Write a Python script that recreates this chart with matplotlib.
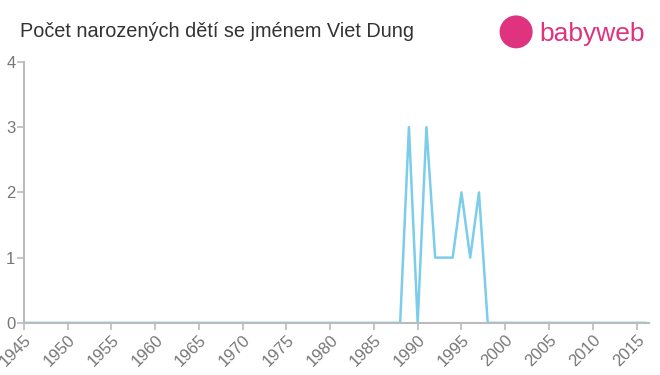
import matplotlib.pyplot as plt
from matplotlib.patches import Ellipse

plt.rcParams['font.family'] = ['Liberation Sans', 'DejaVu Sans']

years = list(range(1945, 2017))
births = [0] * len(years)
peaks = {1989: 3, 1991: 3, 1992: 1, 1993: 1, 1994: 1, 1995: 2, 1996: 1, 1997: 2}
for y, v in peaks.items():
    births[years.index(y)] = v

x_ticks = list(range(1945, 2016, 5))
y_ticks = [0, 1, 2, 3, 4]

fig = plt.figure(figsize=(6.6, 3.75), dpi=100)
ax = fig.add_axes([0.036, 0.139, 0.947, 0.696])
ax.plot(years, births, color='#7ccdea', linewidth=1.8)
ax.set_xlim(1945, 2016.4)
ax.set_ylim(0, 4)
ax.set_xticks(x_ticks)
ax.set_yticks(y_ticks)
ax.set_xticklabels([str(t) for t in x_ticks], rotation=45, ha='right', rotation_mode='anchor')
ax.tick_params(colors='#bbbbbb', labelcolor='#777777', labelsize=12, length=5, width=1.2)
ax.tick_params(axis='x', pad=2)
ax.tick_params(axis='y', pad=1)
for s in ['top', 'right']:
    ax.spines[s].set_visible(False)
for s in ['left', 'bottom']:
    ax.spines[s].set_color('#bbbbbb')
    ax.spines[s].set_linewidth(1.5)

fig.text(0.03, 0.915, 'Počet narozených dětí se jménem Viet Dung', fontsize=14.3, color='#333333', va='center')

# logo
pink = '#e0337f'
fig.patches.append(Ellipse((0.782, 0.915), 0.048, 0.084, transform=fig.transFigure, color=pink))
fig.text(0.817, 0.91, 'babyweb', fontsize=19, color=pink, va='center')

plt.savefig('out.png', dpi=100)
